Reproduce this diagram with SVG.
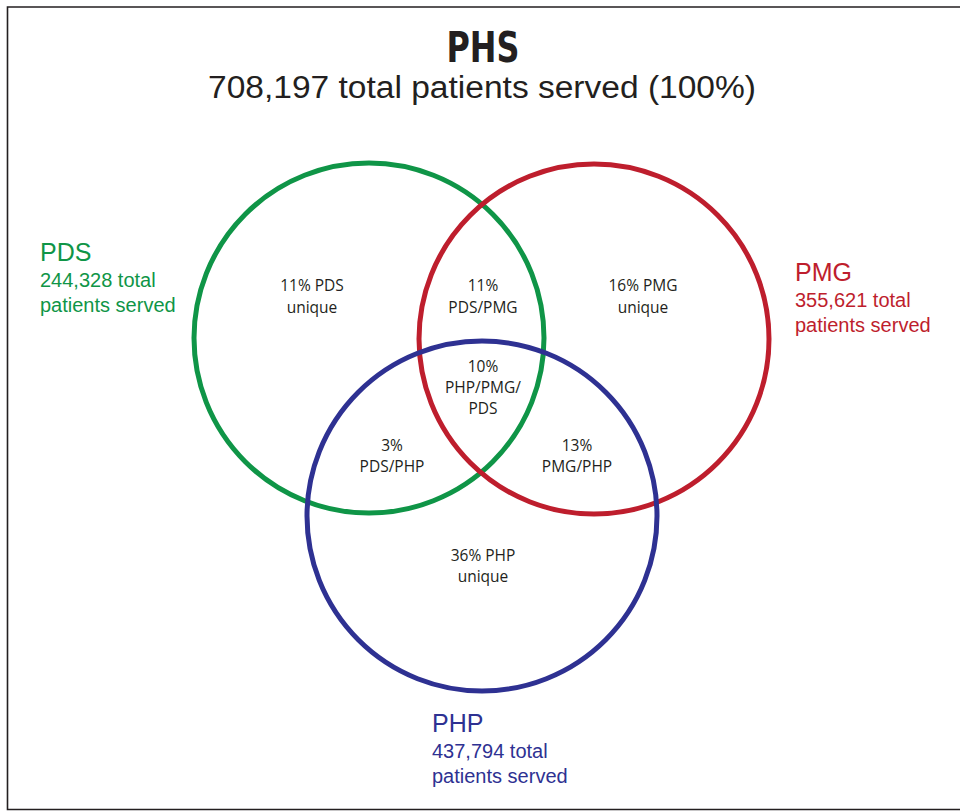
<svg xmlns="http://www.w3.org/2000/svg" width="960" height="811" viewBox="0 0 960 811">
<style>
.frame{fill:none;stroke:#231f20;stroke-width:1.6}
.ring{fill:none;stroke-width:5}
.inner{font-family:"Open Sans","Liberation Sans",sans-serif;font-size:15.5px;fill:#231f20;text-anchor:middle}
.lbl{font-family:"Liberation Sans",sans-serif}
.big{font-size:25px}
.small{font-size:20px}
.title{font-family:"DejaVu Sans Condensed","DejaVu Sans",sans-serif;font-weight:bold;font-size:42px;fill:#231f20;text-anchor:middle}
.sub{font-family:"Liberation Sans",sans-serif;font-size:31px;fill:#231f20;text-anchor:middle}
</style>
<rect width="960" height="811" fill="#ffffff"/>
<path class="frame" d="M962,7 H7.5 V809.5 H962"/>
<g id="title">
<text class="title" x="483" y="62" textLength="73" lengthAdjust="spacingAndGlyphs">PHS</text>
<text class="sub" x="482" y="98" textLength="548" lengthAdjust="spacingAndGlyphs">708,197 total patients served (100%)</text>
</g>
<g id="connectors"></g>
<g id="pds">
<circle class="ring" cx="369" cy="338" r="175" stroke="#0f9547"/>
<g class="lbl" fill="#0f9547">
<text class="big" x="40" y="261">PDS</text>
<text class="small" x="40" y="287">244,328 total</text>
<text class="small" x="40" y="312">patients served</text>
</g>
</g>
<g id="pmg">
<circle class="ring" cx="594" cy="339" r="175" stroke="#be1e2d"/>
<g class="lbl" fill="#be1e2d">
<text class="big" x="795" y="281">PMG</text>
<text class="small" x="795" y="307">355,621 total</text>
<text class="small" x="795" y="332">patients served</text>
</g>
</g>
<g id="php">
<circle class="ring" cx="482" cy="516" r="175" stroke="#2e3192"/>
<g class="lbl" fill="#2e3192">
<text class="big" x="432" y="732">PHP</text>
<text class="small" x="432" y="758">437,794 total</text>
<text class="small" x="432" y="783">patients served</text>
</g>
</g>
<g id="regions">
<text class="inner" x="312" y="291">11% PDS</text>
<text class="inner" x="312" y="313">unique</text>
<text class="inner" x="483" y="291">11%</text>
<text class="inner" x="483" y="313">PDS/PMG</text>
<text class="inner" x="643" y="291">16% PMG</text>
<text class="inner" x="643" y="313">unique</text>
<text class="inner" x="483" y="372">10%</text>
<text class="inner" x="483" y="393">PHP/PMG/</text>
<text class="inner" x="483" y="414">PDS</text>
<text class="inner" x="392" y="451">3%</text>
<text class="inner" x="392" y="472">PDS/PHP</text>
<text class="inner" x="577" y="451">13%</text>
<text class="inner" x="577" y="472">PMG/PHP</text>
<text class="inner" x="483" y="561">36% PHP</text>
<text class="inner" x="483" y="582">unique</text>
</g>
</svg>
